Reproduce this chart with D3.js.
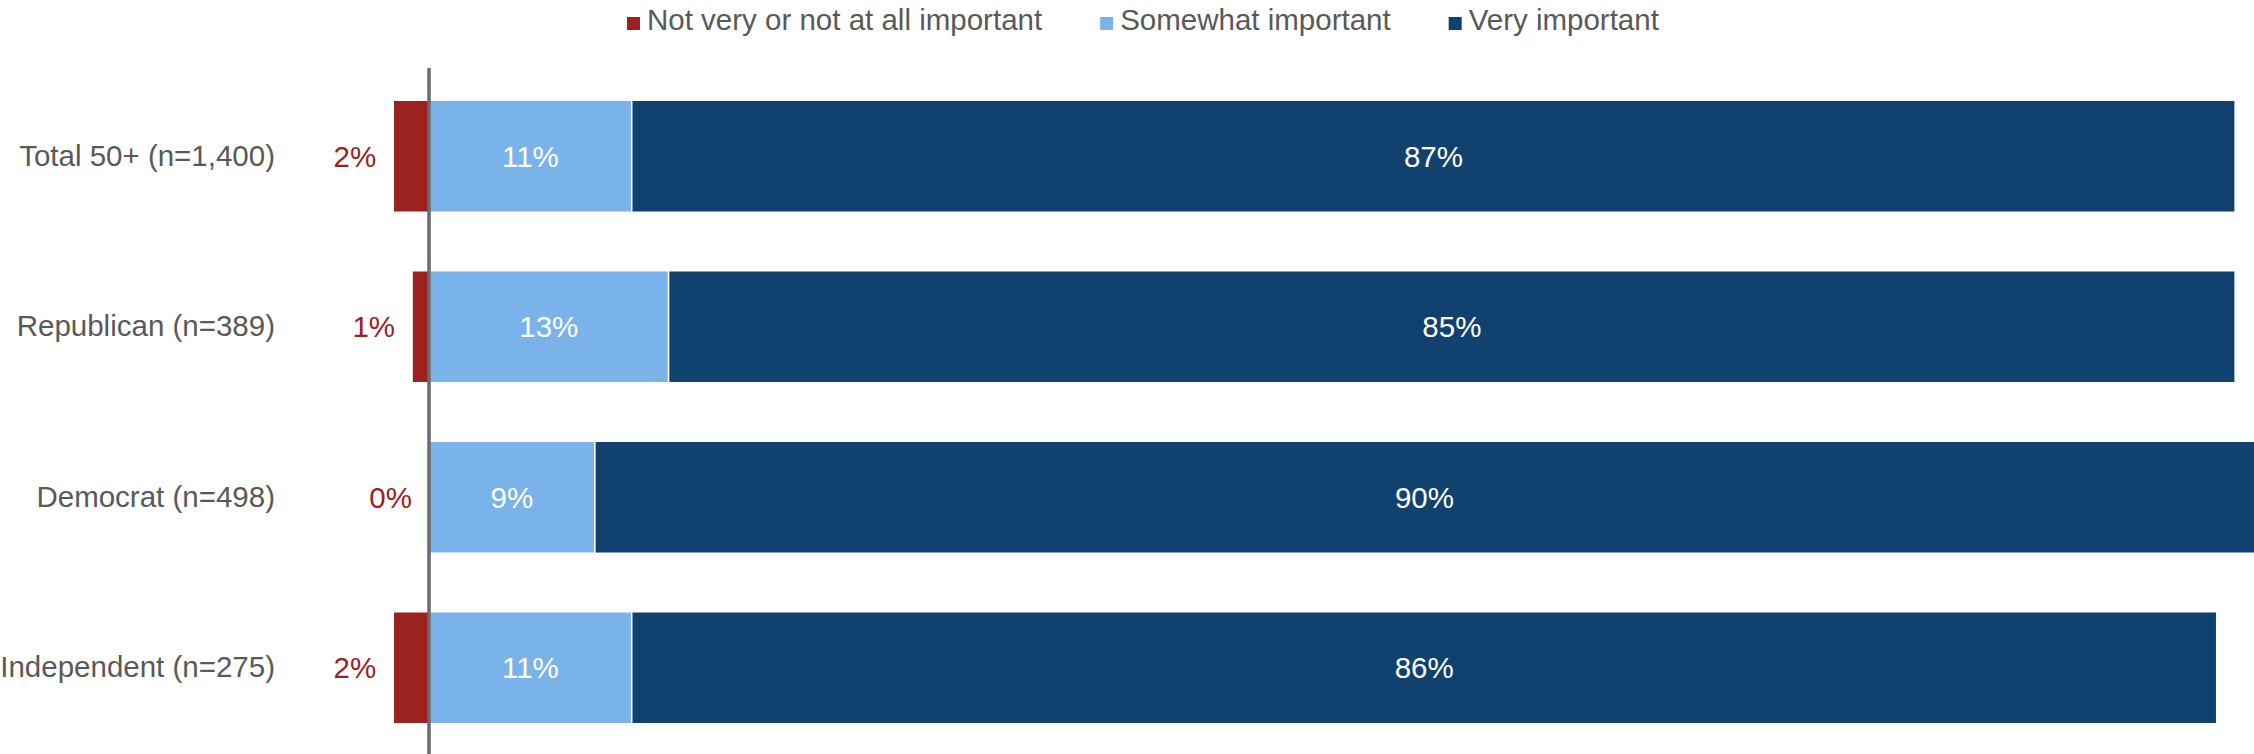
<!DOCTYPE html>
<html>
<head>
<meta charset="utf-8">
<script src="https://cdn.jsdelivr.net/npm/d3@7"></script>
<style>
  body { margin: 0; background: #fff; }
  svg { display: block; font-family: "Liberation Sans", Arial, sans-serif; }
</style>
</head>
<body>
<svg width="2254" height="754"></svg>
<script>
// survey shares, percent
const categories = ["Total 50+ (n=1,400)", "Republican (n=389)", "Democrat (n=498)", "Independent (n=275)"];
const notImportant = [1.94, 0.92, 0, 1.94];
const somewhat = [11.0, 13.0, 9.0, 11.0];
const veryImportant = [87.0, 85.0, 90.2, 86.0];
const seriesNames = ["Not very or not at all important", "Somewhat important", "Very important"];
const seriesColors = ["#9c2121", "#7ab3ea", "#11426f"];

let svg = d3.select("svg");
let width = 2254, height = 754;
let fontSize = "29.5px";

let x = d3.scaleLinear().domain([0, 100]).range([429, 429 + 1843]);
let y = d3.scaleBand().domain(categories).range([71, 753]).paddingInner(0.343).paddingOuter(0.1715);

let rows = categories.map((c, i) => ({
  cat: c,
  neg: notImportant[i],
  some: somewhat[i],
  very: veryImportant[i]
}));

let g = svg.append("g");

// red part goes left of zero
g.selectAll(".neg")
  .data(rows.filter(d => d.neg > 0))
  .enter().append("rect")
  .attr("class", "neg")
  .attr("x", d => x(-d.neg))
  .attr("y", d => y(d.cat))
  .attr("width", d => x(0) - x(-d.neg))
  .attr("height", y.bandwidth())
  .attr("fill", seriesColors[0])
  .attr("stroke", "#fff")
  .attr("stroke-width", 1.5);

g.selectAll(".some")
  .data(rows)
  .enter().append("rect")
  .attr("class", "some")
  .attr("x", d => x(0))
  .attr("y", d => y(d.cat))
  .attr("width", d => x(d.some) - x(0))
  .attr("height", y.bandwidth())
  .attr("fill", seriesColors[1])
  .attr("stroke", "#fff")
  .attr("stroke-width", 1.5);

g.selectAll(".very")
  .data(rows)
  .enter().append("rect")
  .attr("class", "very")
  .attr("x", d => x(d.some))
  .attr("y", d => y(d.cat))
  .attr("width", d => x(d.some + d.very) - x(d.some))
  .attr("height", y.bandwidth())
  .attr("fill", seriesColors[2])
  .attr("stroke", "#fff")
  .attr("stroke-width", 1.5);

// value labels
g.selectAll(".negLabel")
  .data(rows)
  .enter().append("text")
  .attr("x", d => x(-d.neg) - 17)
  .attr("y", d => y(d.cat) + y.bandwidth() / 2)
  .attr("dy", "0.35em")
  .attr("text-anchor", "end")
  .attr("fill", "#9c2121")
  .style("font-size", fontSize)
  .text(d => Math.round(d.neg) + "%");

g.selectAll(".someLabel")
  .data(rows)
  .enter().append("text")
  .attr("x", d => (x(0) + x(d.some)) / 2)
  .attr("y", d => y(d.cat) + y.bandwidth() / 2)
  .attr("dy", "0.35em")
  .attr("text-anchor", "middle")
  .attr("fill", "#fff")
  .style("font-size", fontSize)
  .text(d => Math.round(d.some) + "%");

g.selectAll(".veryLabel")
  .data(rows)
  .enter().append("text")
  .attr("x", d => (x(d.some) + Math.min(x(d.some + d.very), width)) / 2)
  .attr("y", d => y(d.cat) + y.bandwidth() / 2)
  .attr("dy", "0.35em")
  .attr("text-anchor", "middle")
  .attr("fill", "#fff")
  .style("font-size", fontSize)
  .text(d => Math.round(d.very) + "%");

// zero line
svg.append("line")
  .attr("x1", x(0)).attr("x2", x(0))
  .attr("y1", 68).attr("y2", height)
  .attr("stroke", "#6b6b6b")
  .attr("stroke-width", 3.5);

// category labels
let yAxis = svg.append("g")
  .attr("transform", "translate(275,0)")
  .call(d3.axisLeft(y).tickSize(0).tickPadding(0));
yAxis.select(".domain").remove();
yAxis.selectAll("text")
  .attr("fill", "#595959")
  .style("font-size", fontSize)
  .style("font-family", "\"Liberation Sans\", Arial, sans-serif");

// legend
let lx = 627;
seriesNames.forEach((name, i) => {
  svg.append("rect")
    .attr("x", lx).attr("y", 17)
    .attr("width", 13).attr("height", 13)
    .attr("fill", seriesColors[i]);
  let t = svg.append("text")
    .attr("x", lx + 20).attr("y", 30)
    .attr("fill", "#595959")
    .style("font-size", fontSize)
    .text(name);
  lx += 20 + t.node().getComputedTextLength() + 58;
});
</script>
</body>
</html>
